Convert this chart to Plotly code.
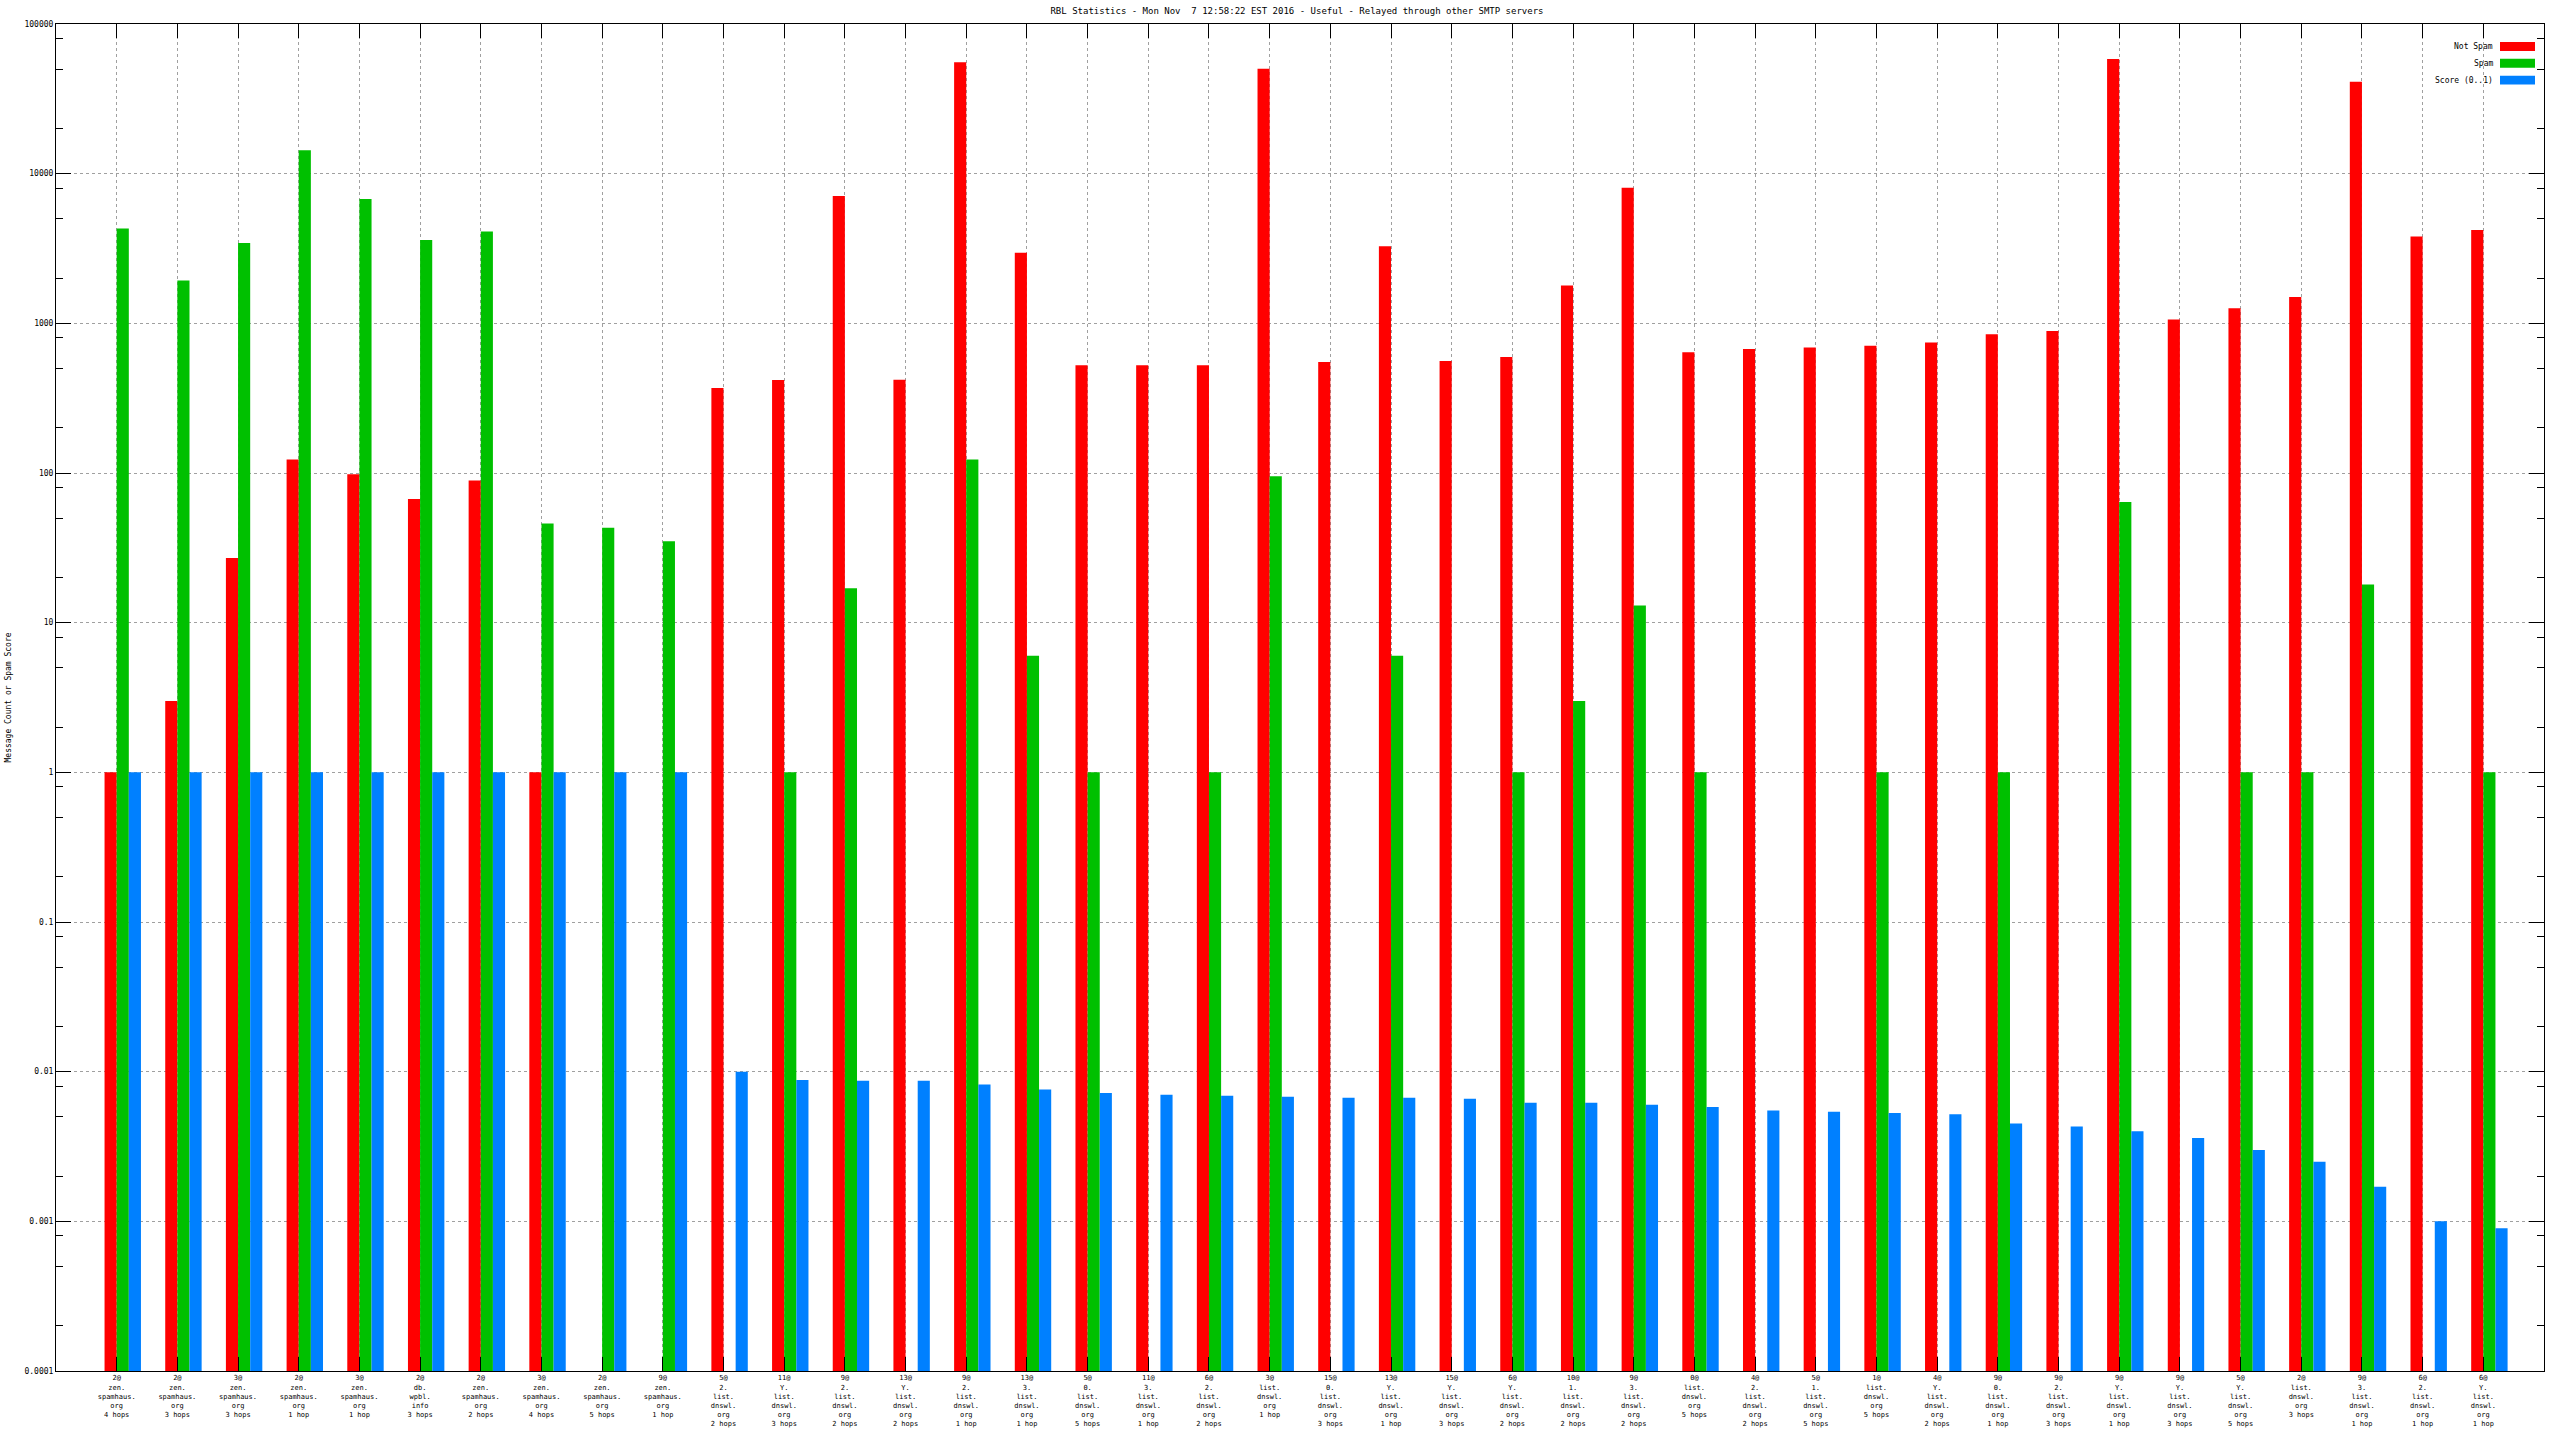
import plotly.graph_objects as go

tick_labels = [
    "2@<br>zen.<br>spamhaus.<br>org<br>4 hops",
    "2@<br>zen.<br>spamhaus.<br>org<br>3 hops",
    "3@<br>zen.<br>spamhaus.<br>org<br>3 hops",
    "2@<br>zen.<br>spamhaus.<br>org<br>1 hop",
    "3@<br>zen.<br>spamhaus.<br>org<br>1 hop",
    "2@<br>db.<br>wpbl.<br>info<br>3 hops",
    "2@<br>zen.<br>spamhaus.<br>org<br>2 hops",
    "3@<br>zen.<br>spamhaus.<br>org<br>4 hops",
    "2@<br>zen.<br>spamhaus.<br>org<br>5 hops",
    "9@<br>zen.<br>spamhaus.<br>org<br>1 hop",
    "5@<br>2.<br>list.<br>dnswl.<br>org<br>2 hops",
    "11@<br>Y.<br>list.<br>dnswl.<br>org<br>3 hops",
    "9@<br>2.<br>list.<br>dnswl.<br>org<br>2 hops",
    "13@<br>Y.<br>list.<br>dnswl.<br>org<br>2 hops",
    "9@<br>2.<br>list.<br>dnswl.<br>org<br>1 hop",
    "13@<br>3.<br>list.<br>dnswl.<br>org<br>1 hop",
    "5@<br>0.<br>list.<br>dnswl.<br>org<br>5 hops",
    "11@<br>3.<br>list.<br>dnswl.<br>org<br>1 hop",
    "6@<br>2.<br>list.<br>dnswl.<br>org<br>2 hops",
    "3@<br>list.<br>dnswl.<br>org<br>1 hop",
    "15@<br>0.<br>list.<br>dnswl.<br>org<br>3 hops",
    "13@<br>Y.<br>list.<br>dnswl.<br>org<br>1 hop",
    "15@<br>Y.<br>list.<br>dnswl.<br>org<br>3 hops",
    "6@<br>Y.<br>list.<br>dnswl.<br>org<br>2 hops",
    "10@<br>1.<br>list.<br>dnswl.<br>org<br>2 hops",
    "9@<br>3.<br>list.<br>dnswl.<br>org<br>2 hops",
    "0@<br>list.<br>dnswl.<br>org<br>5 hops",
    "4@<br>2.<br>list.<br>dnswl.<br>org<br>2 hops",
    "5@<br>1.<br>list.<br>dnswl.<br>org<br>5 hops",
    "1@<br>list.<br>dnswl.<br>org<br>5 hops",
    "4@<br>Y.<br>list.<br>dnswl.<br>org<br>2 hops",
    "9@<br>0.<br>list.<br>dnswl.<br>org<br>1 hop",
    "9@<br>2.<br>list.<br>dnswl.<br>org<br>3 hops",
    "9@<br>Y.<br>list.<br>dnswl.<br>org<br>1 hop",
    "9@<br>Y.<br>list.<br>dnswl.<br>org<br>3 hops",
    "5@<br>Y.<br>list.<br>dnswl.<br>org<br>5 hops",
    "2@<br>list.<br>dnswl.<br>org<br>3 hops",
    "9@<br>3.<br>list.<br>dnswl.<br>org<br>1 hop",
    "6@<br>2.<br>list.<br>dnswl.<br>org<br>1 hop",
    "6@<br>Y.<br>list.<br>dnswl.<br>org<br>1 hop",
]

not_spam = [1, 3, 27, 123, 98, 67, 89, 1, None, None,
            370, 419, 7100, 420, 55500, 2960, 525, 525, 525, 50200,
            552, 3270, 560, 595, 1790, 8060, 641, 675, 690, 709,
            746, 845, 889, 58300, 1060, 1260, 1500, 41100, 3800, 4200]
spam = [4300, 1930, 3440, 14350, 6760, 3610, 4100, 46, 43, 35,
        None, 1, 17, None, 123, 6, 1, None, 1, 95,
        None, 6, None, 1, 3, 13, 1, None, None, 1,
        None, 1, None, 64, None, 1, 1, 18, None, 1]
score = [1, 1, 1, 1, 1, 1, 1, 1, 1, 1,
         0.01, 0.0088, 0.0087, 0.0087, 0.0082, 0.0076, 0.0072, 0.0070, 0.0069, 0.0068,
         0.0067, 0.0067, 0.0066, 0.0062, 0.0062, 0.0060, 0.0058, 0.0055, 0.0054, 0.0053,
         0.0052, 0.0045, 0.0043, 0.0040, 0.0036, 0.0030, 0.0025, 0.0017, 0.0010, 0.0009]

series_names = ["Not Spam", "Spam", "Score (0..1)"]
series_colors = ["#ff0000", "#00c000", "#0080ff"]
series_values = [not_spam, spam, score]

y_tick_vals = [1e-4, 1e-3, 1e-2, 1e-1, 1, 10, 100, 1000, 10000, 100000]
y_tick_text = ["0.0001", "0.001", "0.01", "0.1", "1", "10", "100", "1000", "10000", "100000"]
minor_vals = [m * 10 ** k for k in range(-4, 5) for m in (2, 5, 8)]

FONT = "DejaVu Sans Mono"
W, H = 2560, 1440
ML, MR, MT, MB = 56, 16, 24, 65

x_idx = list(range(len(tick_labels)))

fig = go.Figure()
offsets = [-0.2, 0.0, 0.2]
for name, color, vals, off in zip(series_names, series_colors, series_values, offsets):
    fig.add_trace(go.Bar(
        x=x_idx, y=vals, name=name, marker=dict(color=color, line=dict(width=0)),
        width=0.2, offset=off, showlegend=False,
    ))

# gnuplot-style key: text right aligned, swatch to the right
pw = W - ML - MR
ph = H - MT - MB
def px_x(p):
    return (p - ML) / pw
def px_y(p):
    return 1 - (p - MT) / ph

annotations = []
shapes = []
rows_y = [46.5, 63.3, 80.3]
for name, color, yc in zip(series_names, series_colors, rows_y):
    annotations.append(dict(
        xref="paper", yref="paper", x=px_x(2495), y=px_y(yc), text=name,
        showarrow=False, xanchor="right", yanchor="middle",
        font=dict(family=FONT, size=8, color="black"),
    ))
    shapes.append(dict(
        type="rect", xref="paper", yref="paper",
        x0=px_x(2500), x1=px_x(2535), y0=px_y(yc + 4.5), y1=px_y(yc - 4.5),
        fillcolor=color, line=dict(width=0),
    ))

annotations.append(dict(
    xref="paper", yref="paper", x=px_x(8), y=0.5, text="Message Count or Spam Score",
    textangle=-90, showarrow=False, xanchor="center", yanchor="middle",
    font=dict(family=FONT, size=8, color="black"),
))

fig.update_layout(
    width=W, height=H,
    margin=dict(l=ML, r=MR, t=MT, b=MB, pad=0),
    paper_bgcolor="white", plot_bgcolor="white",
    barmode="overlay",
    title=dict(
        text="RBL Statistics - Mon Nov  7 12:58:22 EST 2016 - Useful - Relayed through other SMTP servers",
        x=(1297) / W, xanchor="center", xref="container",
        y=1 - 11 / H, yanchor="middle", yref="container",
        font=dict(family=FONT, size=9, color="black"),
    ),
    font=dict(family=FONT, size=8, color="black"),
    annotations=annotations,
    shapes=shapes,
)

fig.update_xaxes(
    range=[-1, len(tick_labels)],
    tickmode="array", tickvals=x_idx, ticktext=tick_labels,
    tickangle=0,
    ticks="inside", ticklen=14, tickwidth=1, tickcolor="black",
    showline=True, linecolor="black", linewidth=1, mirror="ticks",
    showgrid=True, gridcolor="#a0a0a0", gridwidth=1, griddash="3px,3px",
    tickfont=dict(family=FONT, size=7, color="black"),
    zeroline=False,
)
fig.update_yaxes(
    type="log", range=[-4, 5],
    tickmode="array", tickvals=y_tick_vals, ticktext=y_tick_text,
    ticks="inside", ticklen=15, tickwidth=1, tickcolor="black",
    showline=True, linecolor="black", linewidth=1, mirror="ticks",
    showgrid=True, gridcolor="#a0a0a0", gridwidth=1, griddash="3px,3px",
    tickfont=dict(family=FONT, size=8, color="black"),
    minor=dict(tickmode="array", tickvals=minor_vals, ticks="inside", ticklen=7,
               tickcolor="black", tickwidth=1, showgrid=False),
    zeroline=False,
)

fig.write_html("out.html", config={"displayModeBar": False},
               post_script="document.body.style.margin='0';")
